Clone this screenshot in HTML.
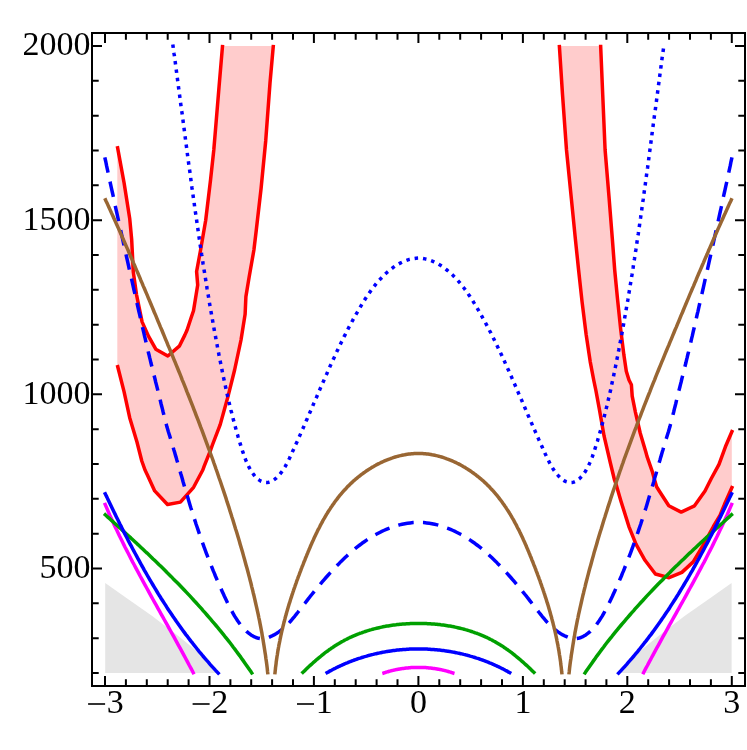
<!DOCTYPE html>
<html><head><meta charset="utf-8"><title>plot</title>
<style>html,body{margin:0;padding:0;background:#fff;}svg{display:block;}text{font-family:"Liberation Serif",serif;}svg{will-change:transform;}</style></head>
<body>
<svg width="747" height="750" viewBox="0 0 747 750">
<rect width="747" height="750" fill="#fff"/>
<path d="M105.2 583 L126.1 597.8 L152.2 616.1 L178.3 636.1 L190 645.5 L197.5 651.8 L214.1 671 L216.6 673 L105.2 673 Z" fill="#e5e5e5"/>
<path d="M731.6 583 L710.7 597.8 L684.6 616.1 L658.5 636.1 L646.8 645.5 L639.3 651.8 L622.7 671 L620.2 673 L731.6 673 Z" fill="#e5e5e5"/>
<clipPath id="pr"><rect x="105" y="46" width="626.8" height="627"/></clipPath>
<g clip-path="url(#pr)">
<path d="M117.3 146.1 L124.1 183 L129.7 218.4 L131.7 240 L132.5 256.1 L133.3 272.1 L136.5 294.6 L142.1 321.9 L148.6 336.4 L155.8 349.2 L167.8 356 L179.3 346.2 L184.8 335.1 L187.1 330 L191.2 317.5 L193.5 310.7 L195.3 299.8 L197.7 285 L196.6 271.5 L200.4 251 L205.7 220.3 L210.5 180.2 L213.8 150 L215.1 134.4 L219.1 86.2 L222.6 44.8 L273.4 44.8 L270 83 L265.7 141 L261.1 188.2 L256.3 230 L253.9 250 L249.1 277.3 L245.9 296.6 L245.1 314.3 L241 340 L234.6 370 L228.2 395.7 L220.2 424.6 L212.4 445 L210.5 450.3 L204.1 466.4 L202.8 470 L193.6 487.3 L180.4 502.1 L167.5 504.5 L154.7 490.9 L147.4 475 L145 470 L141.8 461 L136.9 441.7 L129.7 417.7 L124.1 391.9 L117.3 365 Z" fill="#ffcccc"/>
<path d="M559.3 44.8 L562.5 94.3 L566.5 150 L571.3 198.2 L575.3 238.4 L578.6 270 L582.1 302.1 L586.1 334.3 L590.2 361.6 L593.7 380 L595.8 390 L599.3 408.9 L604.1 436.2 L610.5 463.5 L614.5 480 L616.1 484.4 L620.9 500.9 L628.9 526.6 L636.1 544.3 L645 560.3 L655.4 574 L669.1 577.7 L681.9 572.4 L693.2 561.9 L702.8 545.9 L713.4 526.5 L720 515.3 L724.5 504.3 L732.6 486 L732.6 430 L725.4 446.8 L719 464.4 L711.3 478.5 L705 491 L694.5 505.8 L681.2 512.1 L668.8 505.8 L659.4 491.2 L656.6 486.8 L654.6 480 L652.3 471.6 L647 456.4 L645.9 452.3 L640.2 433 L635.4 412.1 L632.2 396.1 L631.4 384.8 L629 380 L626.3 371.2 L623.9 355.1 L620.7 329.4 L617.5 298.9 L614.7 270 L612.3 238.4 L609.1 198.2 L605.1 150 L602.7 94.3 L600.6 44.8 Z" fill="#ffcccc"/>
</g>
<path d="M117.3 146.1 L124.1 183 L129.7 218.4 L131.7 240 L132.5 256.1 L133.3 272.1 L136.5 294.6 L142.1 321.9 L148.6 336.4 L155.8 349.2 L167.8 356 L179.3 346.2 L184.8 335.1 L187.1 330 L191.2 317.5 L193.5 310.7 L195.3 299.8 L197.7 285 L196.6 271.5 L200.4 251 L205.7 220.3 L210.5 180.2 L213.8 150 L215.1 134.4 L219.1 86.2 L222.6 44.8" fill="none" stroke="#ff0000" stroke-width="3.5" stroke-linejoin="round"/>
<path d="M117.3 365 L124.1 391.9 L129.7 417.7 L136.9 441.7 L141.8 461 L145 470 L147.4 475 L154.7 490.9 L167.5 504.5 L180.4 502.1 L193.6 487.3 L202.8 470 L204.1 466.4 L210.5 450.3 L212.4 445 L220.2 424.6 L228.2 395.7 L234.6 370 L241 340 L245.1 314.3 L245.9 296.6 L249.1 277.3 L253.9 250 L256.3 230 L261.1 188.2 L265.7 141 L270 83 L273.4 44.8" fill="none" stroke="#ff0000" stroke-width="3.5" stroke-linejoin="round"/>
<path d="M600.6 44.8 L602.7 94.3 L605.1 150 L609.1 198.2 L612.3 238.4 L614.7 270 L617.5 298.9 L620.7 329.4 L623.9 355.1 L626.3 371.2 L629 380 L631.4 384.8 L632.2 396.1 L635.4 412.1 L640.2 433 L645.9 452.3 L647 456.4 L652.3 471.6 L654.6 480 L656.6 486.8 L659.4 491.2 L668.8 505.8 L681.2 512.1 L694.5 505.8 L705 491 L711.3 478.5 L719 464.4 L725.4 446.8 L732.6 430" fill="none" stroke="#ff0000" stroke-width="3.5" stroke-linejoin="round"/>
<path d="M559.3 44.8 L562.5 94.3 L566.5 150 L571.3 198.2 L575.3 238.4 L578.6 270 L582.1 302.1 L586.1 334.3 L590.2 361.6 L593.7 380 L595.8 390 L599.3 408.9 L604.1 436.2 L610.5 463.5 L614.5 480 L616.1 484.4 L620.9 500.9 L628.9 526.6 L636.1 544.3 L645 560.3 L655.4 574 L669.1 577.7 L681.9 572.4 L693.2 561.9 L702.8 545.9 L713.4 526.5 L720 515.3 L724.5 504.3 L732.6 486" fill="none" stroke="#ff0000" stroke-width="3.5" stroke-linejoin="round"/>
<path d="M104.5 502.9 L105.8 505.9 L107.1 508.9 L108.4 512 L109.7 515 L111.1 517.9 L112.4 520.9 L113.8 523.9 L115.2 526.9 L116.6 529.8 L118 532.8 L119.4 535.8 L120.9 538.7 L122.3 541.6 L123.8 544.6 L125.2 547.5 L126.7 550.4 L128.2 553.3 L129.7 556.2 L131.2 559.2 L132.7 562.1 L134.3 565 L135.8 567.9 L137.3 570.7 L138.9 573.6 L140.4 576.5 L142 579.4 L143.6 582.3 L145.1 585.1 L146.7 588 L148.3 590.9 L149.9 593.8 L151.4 596.6 L153 599.5 L154.6 602.4 L156.2 605.2 L157.8 608.1 L159.4 610.9 L161 613.8 L162.6 616.7 L164.2 619.5 L165.8 622.4 L167.4 625.2 L169 628.1 L170.6 631 L172.2 633.8 L173.8 636.7 L175.4 639.6 L176.9 642.4 L178.5 645.3 L180.1 648.2 L181.7 651.1 L183.2 653.9 L184.8 656.8 L186.3 659.7 L187.9 662.6 L189.4 665.5 L191 668.4 L192.5 671.3 L194 674.2" fill="none" stroke="#ff00ff" stroke-width="3.5" stroke-linejoin="round" />
<path d="M732.3 502.9 L731 505.9 L729.7 508.9 L728.4 512 L727.1 515 L725.7 517.9 L724.4 520.9 L723 523.9 L721.6 526.9 L720.2 529.8 L718.8 532.8 L717.4 535.8 L715.9 538.7 L714.5 541.6 L713 544.6 L711.6 547.5 L710.1 550.4 L708.6 553.3 L707.1 556.2 L705.6 559.2 L704.1 562.1 L702.5 565 L701 567.9 L699.5 570.7 L697.9 573.6 L696.4 576.5 L694.8 579.4 L693.2 582.3 L691.7 585.1 L690.1 588 L688.5 590.9 L686.9 593.8 L685.4 596.6 L683.8 599.5 L682.2 602.4 L680.6 605.2 L679 608.1 L677.4 610.9 L675.8 613.8 L674.2 616.7 L672.6 619.5 L671 622.4 L669.4 625.2 L667.8 628.1 L666.2 631 L664.6 633.8 L663 636.7 L661.4 639.6 L659.9 642.4 L658.3 645.3 L656.7 648.2 L655.1 651.1 L653.6 653.9 L652 656.8 L650.5 659.7 L648.9 662.6 L647.4 665.5 L645.8 668.4 L644.3 671.3 L642.8 674.2" fill="none" stroke="#ff00ff" stroke-width="3.5" stroke-linejoin="round" />
<path d="M382.3 673.5 L383 673.3 L383.7 673 L384.4 672.8 L385.1 672.6 L385.8 672.3 L386.5 672.1 L387.2 671.9 L387.9 671.7 L388.6 671.5 L389.3 671.3 L390 671.1 L390.7 670.9 L391.4 670.7 L392.1 670.6 L392.8 670.4 L393.6 670.2 L394.3 670.1 L395 669.9 L395.7 669.7 L396.4 669.6 L397.1 669.4 L397.9 669.3 L398.6 669.2 L399.3 669 L400 668.9 L400.8 668.8 L401.5 668.7 L402.2 668.6 L403 668.5 L403.7 668.4 L404.4 668.3 L405.1 668.2 L405.9 668.1 L406.6 668 L407.3 667.9 L408.1 667.9 L408.8 667.8 L409.6 667.7 L410.3 667.7 L411 667.6 L411.8 667.6 L412.5 667.6 L413.2 667.5 L414 667.5 L414.7 667.5 L415.4 667.4 L416.2 667.4 L416.9 667.4 L417.7 667.4 L418.4 667.4 L419.1 667.4 L419.9 667.4 L420.6 667.4 L421.4 667.4 L422.1 667.5 L422.8 667.5 L423.6 667.5 L424.3 667.6 L425 667.6 L425.8 667.6 L426.5 667.7 L427.2 667.7 L428 667.8 L428.7 667.9 L429.5 667.9 L430.2 668 L430.9 668.1 L431.7 668.2 L432.4 668.3 L433.1 668.4 L433.8 668.5 L434.6 668.6 L435.3 668.7 L436 668.8 L436.8 668.9 L437.5 669 L438.2 669.2 L438.9 669.3 L439.7 669.4 L440.4 669.6 L441.1 669.7 L441.8 669.9 L442.5 670.1 L443.2 670.2 L444 670.4 L444.7 670.6 L445.4 670.7 L446.1 670.9 L446.8 671.1 L447.5 671.3 L448.2 671.5 L448.9 671.7 L449.6 671.9 L450.3 672.1 L451 672.3 L451.7 672.6 L452.4 672.8 L453.1 673 L453.8 673.3 L454.5 673.5" fill="none" stroke="#ff00ff" stroke-width="3.5" stroke-linejoin="round" />
<path d="M104 513.7 L106.1 515.5 L108.1 517.4 L110.2 519.2 L112.3 521.1 L114.3 523 L116.4 524.8 L118.5 526.7 L120.5 528.5 L122.6 530.4 L124.6 532.3 L126.7 534.2 L128.7 536 L130.8 537.9 L132.8 539.8 L134.9 541.7 L136.9 543.6 L139 545.5 L141 547.4 L143 549.3 L145 551.2 L147.1 553.1 L149.1 555 L151.1 556.9 L153.1 558.9 L155.1 560.8 L157.1 562.7 L159.1 564.7 L161.1 566.6 L163.1 568.5 L165.1 570.5 L167 572.5 L169 574.4 L171 576.4 L172.9 578.4 L174.9 580.4 L176.8 582.3 L178.8 584.3 L180.7 586.3 L182.6 588.3 L184.5 590.3 L186.5 592.4 L188.4 594.4 L190.3 596.4 L192.1 598.4 L194 600.5 L195.9 602.5 L197.8 604.6 L199.6 606.6 L201.5 608.7 L203.3 610.8 L205.2 612.9 L207 615 L208.8 617.1 L210.6 619.2 L212.4 621.3 L214.2 623.4 L216 625.5 L217.8 627.6 L219.6 629.8 L221.3 631.9 L223.1 634.1 L224.8 636.3 L226.5 638.4 L228.3 640.6 L230 642.8 L231.7 645 L233.3 647.2 L235 649.4 L236.7 651.7 L238.3 653.9 L240 656.1 L241.6 658.4 L243.2 660.6 L244.8 662.9 L246.4 665.2 L248 667.5 L249.6 669.8 L251.2 672.1 L252.7 674.4" fill="none" stroke="#00a000" stroke-width="3.5" stroke-linejoin="round" />
<path d="M732.8 513.7 L730.7 515.5 L728.7 517.4 L726.6 519.2 L724.5 521.1 L722.5 523 L720.4 524.8 L718.3 526.7 L716.3 528.5 L714.2 530.4 L712.2 532.3 L710.1 534.2 L708.1 536 L706 537.9 L704 539.8 L701.9 541.7 L699.9 543.6 L697.8 545.5 L695.8 547.4 L693.8 549.3 L691.8 551.2 L689.7 553.1 L687.7 555 L685.7 556.9 L683.7 558.9 L681.7 560.8 L679.7 562.7 L677.7 564.7 L675.7 566.6 L673.7 568.5 L671.7 570.5 L669.8 572.5 L667.8 574.4 L665.8 576.4 L663.9 578.4 L661.9 580.4 L660 582.3 L658 584.3 L656.1 586.3 L654.2 588.3 L652.3 590.3 L650.3 592.4 L648.4 594.4 L646.5 596.4 L644.7 598.4 L642.8 600.5 L640.9 602.5 L639 604.6 L637.2 606.6 L635.3 608.7 L633.5 610.8 L631.6 612.9 L629.8 615 L628 617.1 L626.2 619.2 L624.4 621.3 L622.6 623.4 L620.8 625.5 L619 627.6 L617.2 629.8 L615.5 631.9 L613.7 634.1 L612 636.3 L610.3 638.4 L608.5 640.6 L606.8 642.8 L605.1 645 L603.5 647.2 L601.8 649.4 L600.1 651.7 L598.5 653.9 L596.8 656.1 L595.2 658.4 L593.6 660.6 L592 662.9 L590.4 665.2 L588.8 667.5 L587.2 669.8 L585.6 672.1 L584.1 674.4" fill="none" stroke="#00a000" stroke-width="3.5" stroke-linejoin="round" />
<path d="M301.6 673.6 L302.5 672.7 L303.5 671.8 L304.4 670.9 L305.4 669.9 L306.3 669 L307.3 668.1 L308.2 667.2 L309.2 666.3 L310.2 665.4 L311.1 664.6 L312.1 663.7 L313.1 662.8 L314.1 661.9 L315.1 661.1 L316 660.2 L317 659.3 L318.1 658.5 L319.1 657.6 L320.1 656.8 L321.1 656 L322.1 655.1 L323.1 654.3 L324.2 653.5 L325.2 652.7 L326.3 651.9 L327.3 651.2 L328.4 650.4 L329.4 649.6 L330.5 648.9 L331.6 648.1 L332.7 647.4 L333.7 646.7 L334.8 645.9 L335.9 645.2 L337 644.6 L338.1 643.9 L339.3 643.2 L340.4 642.6 L341.5 641.9 L342.7 641.3 L343.8 640.7 L344.9 640 L346.1 639.5 L347.3 638.9 L348.4 638.3 L349.6 637.7 L350.8 637.2 L352 636.6 L353.1 636.1 L354.3 635.6 L355.5 635.1 L356.7 634.6 L357.9 634.1 L359.2 633.7 L360.4 633.2 L361.6 632.8 L362.8 632.3 L364.1 631.9 L365.3 631.5 L366.5 631.1 L367.8 630.7 L369 630.3 L370.3 629.9 L371.5 629.6 L372.8 629.2 L374 628.9 L375.3 628.6 L376.6 628.3 L377.9 628 L379.1 627.7 L380.4 627.4 L381.7 627.1 L383 626.8 L384.3 626.6 L385.6 626.3 L386.9 626.1 L388.2 625.9 L389.4 625.7 L390.7 625.5 L392.1 625.3 L393.4 625.1 L394.7 624.9 L396 624.8 L397.3 624.6 L398.6 624.5 L399.9 624.3 L401.2 624.2 L402.5 624.1 L403.9 624 L405.2 623.9 L406.5 623.8 L407.8 623.7 L409.1 623.7 L410.5 623.6 L411.8 623.5 L413.1 623.5 L414.4 623.5 L415.8 623.5 L417.1 623.4 L418.4 623.4 L419.7 623.4 L421 623.5 L422.4 623.5 L423.7 623.5 L425 623.5 L426.3 623.6 L427.7 623.7 L429 623.7 L430.3 623.8 L431.6 623.9 L432.9 624 L434.3 624.1 L435.6 624.2 L436.9 624.3 L438.2 624.5 L439.5 624.6 L440.8 624.8 L442.1 624.9 L443.4 625.1 L444.7 625.3 L446.1 625.5 L447.4 625.7 L448.6 625.9 L449.9 626.1 L451.2 626.3 L452.5 626.6 L453.8 626.8 L455.1 627.1 L456.4 627.4 L457.7 627.7 L458.9 628 L460.2 628.3 L461.5 628.6 L462.8 628.9 L464 629.2 L465.3 629.6 L466.5 629.9 L467.8 630.3 L469 630.7 L470.3 631.1 L471.5 631.5 L472.7 631.9 L474 632.3 L475.2 632.8 L476.4 633.2 L477.6 633.7 L478.9 634.1 L480.1 634.6 L481.3 635.1 L482.5 635.6 L483.7 636.1 L484.8 636.6 L486 637.2 L487.2 637.7 L488.4 638.3 L489.5 638.9 L490.7 639.5 L491.9 640 L493 640.7 L494.1 641.3 L495.3 641.9 L496.4 642.6 L497.5 643.2 L498.7 643.9 L499.8 644.6 L500.9 645.2 L502 645.9 L503.1 646.7 L504.1 647.4 L505.2 648.1 L506.3 648.9 L507.4 649.6 L508.4 650.4 L509.5 651.2 L510.5 651.9 L511.6 652.7 L512.6 653.5 L513.7 654.3 L514.7 655.1 L515.7 656 L516.7 656.8 L517.7 657.6 L518.7 658.5 L519.8 659.3 L520.8 660.2 L521.7 661.1 L522.7 661.9 L523.7 662.8 L524.7 663.7 L525.7 664.6 L526.6 665.4 L527.6 666.3 L528.6 667.2 L529.5 668.1 L530.5 669 L531.4 669.9 L532.4 670.9 L533.3 671.8 L534.3 672.7 L535.2 673.6" fill="none" stroke="#00a000" stroke-width="3.5" stroke-linejoin="round" />
<path d="M104.5 492.2 L105.7 494.7 L106.9 497.1 L108 499.6 L109.2 502.1 L110.4 504.6 L111.6 507 L112.8 509.5 L114 512 L115.2 514.4 L116.4 516.9 L117.6 519.3 L118.8 521.8 L120 524.3 L121.3 526.7 L122.5 529.2 L123.7 531.6 L125 534.1 L126.2 536.5 L127.5 538.9 L128.7 541.4 L130 543.8 L131.3 546.2 L132.6 548.7 L133.9 551.1 L135.2 553.5 L136.5 555.9 L137.8 558.3 L139.1 560.7 L140.4 563.1 L141.7 565.5 L143.1 567.9 L144.4 570.3 L145.8 572.7 L147.1 575 L148.5 577.4 L149.9 579.8 L151.3 582.1 L152.7 584.5 L154.1 586.8 L155.5 589.2 L156.9 591.5 L158.3 593.9 L159.8 596.2 L161.2 598.5 L162.7 600.8 L164.2 603.1 L165.7 605.4 L167.1 607.7 L168.6 610 L170.2 612.3 L171.7 614.5 L173.2 616.8 L174.8 619 L176.3 621.3 L177.9 623.5 L179.5 625.7 L181.1 628 L182.7 630.2 L184.3 632.4 L185.9 634.6 L187.6 636.7 L189.2 638.9 L190.9 641.1 L192.6 643.2 L194.3 645.4 L196 647.5 L197.7 649.7 L199.4 651.8 L201.2 653.9 L202.9 656 L204.7 658.1 L206.5 660.2 L208.3 662.2 L210.1 664.3 L211.9 666.3 L213.8 668.4 L215.6 670.4 L217.5 672.4 L219.4 674.4" fill="none" stroke="#0000ff" stroke-width="3.5" stroke-linejoin="round" />
<path d="M732.3 492.2 L731.1 494.7 L729.9 497.1 L728.8 499.6 L727.6 502.1 L726.4 504.6 L725.2 507 L724 509.5 L722.8 512 L721.6 514.4 L720.4 516.9 L719.2 519.3 L718 521.8 L716.8 524.3 L715.5 526.7 L714.3 529.2 L713.1 531.6 L711.8 534.1 L710.6 536.5 L709.3 538.9 L708.1 541.4 L706.8 543.8 L705.5 546.2 L704.2 548.7 L702.9 551.1 L701.6 553.5 L700.3 555.9 L699 558.3 L697.7 560.7 L696.4 563.1 L695.1 565.5 L693.7 567.9 L692.4 570.3 L691 572.7 L689.7 575 L688.3 577.4 L686.9 579.8 L685.5 582.1 L684.1 584.5 L682.7 586.8 L681.3 589.2 L679.9 591.5 L678.5 593.9 L677 596.2 L675.6 598.5 L674.1 600.8 L672.6 603.1 L671.1 605.4 L669.7 607.7 L668.2 610 L666.6 612.3 L665.1 614.5 L663.6 616.8 L662 619 L660.5 621.3 L658.9 623.5 L657.3 625.7 L655.7 628 L654.1 630.2 L652.5 632.4 L650.9 634.6 L649.2 636.7 L647.6 638.9 L645.9 641.1 L644.2 643.2 L642.5 645.4 L640.8 647.5 L639.1 649.7 L637.4 651.8 L635.6 653.9 L633.9 656 L632.1 658.1 L630.3 660.2 L628.5 662.2 L626.7 664.3 L624.9 666.3 L623 668.4 L621.2 670.4 L619.3 672.4 L617.4 674.4" fill="none" stroke="#0000ff" stroke-width="3.5" stroke-linejoin="round" />
<path d="M325.6 673.5 L326.4 673 L327.3 672.5 L328.1 672.1 L329 671.6 L329.8 671.1 L330.7 670.6 L331.5 670.2 L332.4 669.7 L333.2 669.3 L334.1 668.8 L335 668.4 L335.8 668 L336.7 667.5 L337.6 667.1 L338.5 666.7 L339.3 666.3 L340.2 665.9 L341.1 665.5 L342 665.1 L342.9 664.7 L343.7 664.3 L344.6 663.9 L345.5 663.5 L346.4 663.1 L347.3 662.8 L348.2 662.4 L349.1 662 L350 661.7 L350.9 661.3 L351.8 661 L352.7 660.6 L353.6 660.3 L354.6 660 L355.5 659.6 L356.4 659.3 L357.3 659 L358.2 658.7 L359.1 658.4 L360.1 658.1 L361 657.8 L361.9 657.5 L362.8 657.2 L363.8 656.9 L364.7 656.6 L365.6 656.4 L366.6 656.1 L367.5 655.8 L368.4 655.6 L369.4 655.3 L370.3 655.1 L371.2 654.8 L372.2 654.6 L373.1 654.4 L374.1 654.1 L375 653.9 L376 653.7 L376.9 653.5 L377.9 653.3 L378.8 653.1 L379.8 652.9 L380.7 652.7 L381.7 652.5 L382.6 652.3 L383.6 652.1 L384.5 651.9 L385.5 651.8 L386.4 651.6 L387.4 651.5 L388.4 651.3 L389.3 651.2 L390.3 651 L391.3 650.9 L392.2 650.7 L393.2 650.6 L394.1 650.5 L395.1 650.4 L396.1 650.2 L397 650.1 L398 650 L399 649.9 L399.9 649.8 L400.9 649.7 L401.9 649.7 L402.8 649.6 L403.8 649.5 L404.8 649.4 L405.8 649.4 L406.7 649.3 L407.7 649.2 L408.7 649.2 L409.6 649.1 L410.6 649.1 L411.6 649.1 L412.6 649 L413.5 649 L414.5 649 L415.5 649 L416.5 649 L417.4 648.9 L418.4 648.9 L419.4 648.9 L420.3 649 L421.3 649 L422.3 649 L423.3 649 L424.2 649 L425.2 649.1 L426.2 649.1 L427.2 649.1 L428.1 649.2 L429.1 649.2 L430.1 649.3 L431 649.4 L432 649.4 L433 649.5 L434 649.6 L434.9 649.7 L435.9 649.7 L436.9 649.8 L437.8 649.9 L438.8 650 L439.8 650.1 L440.7 650.2 L441.7 650.4 L442.7 650.5 L443.6 650.6 L444.6 650.7 L445.5 650.9 L446.5 651 L447.5 651.2 L448.4 651.3 L449.4 651.5 L450.4 651.6 L451.3 651.8 L452.3 651.9 L453.2 652.1 L454.2 652.3 L455.1 652.5 L456.1 652.7 L457 652.9 L458 653.1 L458.9 653.3 L459.9 653.5 L460.8 653.7 L461.8 653.9 L462.7 654.1 L463.7 654.4 L464.6 654.6 L465.6 654.8 L466.5 655.1 L467.4 655.3 L468.4 655.6 L469.3 655.8 L470.2 656.1 L471.2 656.4 L472.1 656.6 L473 656.9 L474 657.2 L474.9 657.5 L475.8 657.8 L476.7 658.1 L477.7 658.4 L478.6 658.7 L479.5 659 L480.4 659.3 L481.3 659.6 L482.2 660 L483.2 660.3 L484.1 660.6 L485 661 L485.9 661.3 L486.8 661.7 L487.7 662 L488.6 662.4 L489.5 662.8 L490.4 663.1 L491.3 663.5 L492.2 663.9 L493.1 664.3 L493.9 664.7 L494.8 665.1 L495.7 665.5 L496.6 665.9 L497.5 666.3 L498.3 666.7 L499.2 667.1 L500.1 667.5 L501 668 L501.8 668.4 L502.7 668.8 L503.6 669.3 L504.4 669.7 L505.3 670.2 L506.1 670.6 L507 671.1 L507.8 671.6 L508.7 672.1 L509.5 672.5 L510.4 673 L511.2 673.5" fill="none" stroke="#0000ff" stroke-width="3.5" stroke-linejoin="round" />
<path d="M172.8 44.4 L173.1 46.7 L173.4 49 L173.7 51.2 L174 53.5 L174.4 55.8 L174.7 58.1 L175 60.3 L175.3 62.6 L175.6 64.9 L175.9 67.2 L176.2 69.5 L176.5 71.7 L176.8 74 L177.1 76.3 L177.4 78.6 L177.7 80.9 L178 83.1 L178.3 85.4 L178.6 87.7 L178.9 90 L179.2 92.3 L179.5 94.5 L179.8 96.8 L180.1 99.1 L180.4 101.4 L180.7 103.7 L181 105.9 L181.3 108.2 L181.6 110.5 L182 112.8 L182.3 115.1 L182.6 117.4 L182.9 119.6 L183.2 121.9 L183.5 124.2 L183.8 126.5 L184.1 128.8 L184.4 131.1 L184.7 133.3 L185 135.6 L185.3 137.9 L185.6 140.2 L185.9 142.5 L186.2 144.7 L186.5 147 L186.8 149.3 L187.1 151.6 L187.4 153.9 L187.7 156.2 L188 158.4 L188.3 160.7 L188.6 163 L188.9 165.3 L189.2 167.6 L189.6 169.9 L189.9 172.1 L190.2 174.4 L190.5 176.7 L190.8 179 L191.1 181.3 L191.4 183.5 L191.7 185.8 L192 188.1 L192.4 190.4 L192.7 192.7 L193 195 L193.3 197.2 L193.6 199.5 L194 201.8 L194.3 204.1 L194.6 206.4 L194.9 208.6 L195.2 210.9 L195.6 213.2 L195.9 215.5 L196.2 217.8 L196.6 220 L196.9 222.3 L197.2 224.6 L197.5 226.9 L197.9 229.1 L198.2 231.4 L198.5 233.7 L198.9 236 L199.2 238.3 L199.6 240.5 L199.9 242.8 L200.2 245.1 L200.6 247.4 L200.9 249.6 L201.3 251.9 L201.6 254.2 L202 256.5 L202.3 258.7 L202.7 261 L203 263.3 L203.4 265.6 L203.7 267.8 L204.1 270.1 L204.5 272.4 L204.8 274.7 L205.2 276.9 L205.6 279.2 L205.9 281.5 L206.3 283.8 L206.7 286 L207 288.3 L207.4 290.6 L207.8 292.8 L208.2 295.1 L208.6 297.4 L208.9 299.6 L209.3 301.9 L209.7 304.2 L210.1 306.4 L210.5 308.7 L210.9 311 L211.3 313.2 L211.7 315.5 L212.1 317.8 L212.5 320 L212.9 322.3 L213.3 324.6 L213.7 326.8 L214.1 329.1 L214.5 331.4 L214.9 333.6 L215.4 335.9 L215.8 338.1 L216.2 340.4 L216.6 342.7 L217.1 344.9 L217.5 347.2 L217.9 349.4 L218.4 351.7 L218.8 354 L219.2 356.2 L219.7 358.5 L220.1 360.7 L220.6 363 L221 365.2 L221.5 367.5 L221.9 369.7 L222.4 372 L222.9 374.3 L223.3 376.5 L223.8 378.7 L224.3 381 L224.8 383.2 L225.3 385.5 L225.7 387.7 L226.2 390 L226.7 392.2 L227.2 394.5 L227.7 396.7 L228.3 398.9 L228.8 401.2 L229.3 403.4 L229.8 405.7 L230.4 407.9 L230.9 410.1 L231.5 412.3 L232.1 414.6 L232.6 416.8 L233.2 419 L233.8 421.3 L234.4 423.5 L235 425.7 L235.6 427.9 L236.2 430.1 L236.8 432.4 L237.5 434.6 L238.1 436.8 L238.8 439 L239.4 441.2 L240.1 443.4 L240.8 445.6 L241.5 447.8 L242.2 450 L242.9 452.2 L243.7 454.4 L244.4 456.6 L245.3 458.8 L246.1 461 L247.1 463.1 L248.1 465.3 L249.1 467.4 L250.3 469.5 L251.5 471.5 L252.9 473.5 L254.3 475.4 L255.9 477.2 L257.5 478.8 L259.3 480.1 L261.1 481.3 L263 482.1 L264.9 482.5 L266.9 482.6 L268.9 482.2 L270.8 481.6 L272.8 480.6 L274.6 479.3 L276.4 477.9 L278 476.3 L279.6 474.5 L281.1 472.7 L282.5 470.8 L283.8 468.8 L285 466.8 L286.1 464.8 L287.3 462.7 L288.3 460.6 L289.4 458.5 L290.4 456.3 L291.4 454.2 L292.3 452.1 L293.3 450 L294.3 447.8 L295.2 445.7 L296.2 443.6 L297.2 441.5 L298.1 439.4 L299 437.3 L300 435.1 L300.9 433 L301.8 430.9 L302.8 428.8 L303.7 426.7 L304.6 424.6 L305.5 422.5 L306.4 420.4 L307.4 418.3 L308.3 416.2 L309.2 414.1 L310.1 412 L311 409.9 L311.9 407.8 L312.8 405.7 L313.7 403.6 L314.6 401.5 L315.5 399.4 L316.5 397.3 L317.4 395.2 L318.3 393.1 L319.2 391 L320.1 388.9 L321 386.8 L321.9 384.7 L322.9 382.6 L323.8 380.5 L324.7 378.4 L325.6 376.3 L326.6 374.2 L327.5 372.1 L328.4 370 L329.4 367.9 L330.3 365.8 L331.3 363.7 L332.2 361.6 L333.2 359.5 L334.2 357.4 L335.1 355.3 L336.1 353.2 L337.1 351.1 L338.1 349.1 L339.1 347 L340.1 344.9 L341.1 342.8 L342.1 340.8 L343.1 338.7 L344.1 336.6 L345.2 334.6 L346.2 332.5 L347.3 330.5 L348.3 328.4 L349.4 326.4 L350.5 324.3 L351.6 322.3 L352.7 320.3 L353.8 318.3 L354.9 316.3 L356 314.3 L357.2 312.3 L358.3 310.3 L359.5 308.3 L360.7 306.3 L361.9 304.3 L363.1 302.4 L364.3 300.4 L365.5 298.5 L366.8 296.6 L368.1 294.7 L369.4 292.8 L370.7 290.9 L372.1 289 L373.5 287.2 L374.9 285.4 L376.3 283.6 L377.8 281.8 L379.3 280.1 L380.9 278.4 L382.5 276.8 L384.1 275.1 L385.8 273.5 L387.5 272 L389.3 270.5 L391.1 269.1 L392.9 267.7 L394.8 266.3 L396.8 265.1 L398.8 263.9 L400.8 262.8 L402.9 261.8 L405.1 260.9 L407.2 260.1 L409.4 259.4 L411.7 258.9 L413.9 258.5 L416.1 258.2 L418.4 258.1 L420.7 258.2 L422.9 258.5 L425.1 258.9 L427.4 259.4 L429.6 260.1 L431.7 260.9 L433.9 261.8 L436 262.8 L438 263.9 L440 265.1 L442 266.3 L443.9 267.7 L445.7 269.1 L447.5 270.5 L449.3 272 L451 273.5 L452.7 275.1 L454.3 276.8 L455.9 278.4 L457.5 280.1 L459 281.8 L460.5 283.6 L461.9 285.4 L463.3 287.2 L464.7 289 L466.1 290.9 L467.4 292.8 L468.7 294.7 L470 296.6 L471.3 298.5 L472.5 300.4 L473.7 302.4 L474.9 304.3 L476.1 306.3 L477.3 308.3 L478.5 310.3 L479.6 312.3 L480.8 314.3 L481.9 316.3 L483 318.3 L484.1 320.3 L485.2 322.3 L486.3 324.3 L487.4 326.4 L488.5 328.4 L489.5 330.5 L490.6 332.5 L491.6 334.6 L492.7 336.6 L493.7 338.7 L494.7 340.8 L495.7 342.8 L496.7 344.9 L497.7 347 L498.7 349.1 L499.7 351.1 L500.7 353.2 L501.7 355.3 L502.6 357.4 L503.6 359.5 L504.6 361.6 L505.5 363.7 L506.5 365.8 L507.4 367.9 L508.4 370 L509.3 372.1 L510.2 374.2 L511.2 376.3 L512.1 378.4 L513 380.5 L513.9 382.6 L514.9 384.7 L515.8 386.8 L516.7 388.9 L517.6 391 L518.5 393.1 L519.4 395.2 L520.3 397.3 L521.3 399.4 L522.2 401.5 L523.1 403.6 L524 405.7 L524.9 407.8 L525.8 409.9 L526.7 412 L527.6 414.1 L528.5 416.2 L529.4 418.3 L530.4 420.4 L531.3 422.5 L532.2 424.6 L533.1 426.7 L534 428.8 L535 430.9 L535.9 433 L536.8 435.1 L537.8 437.3 L538.7 439.4 L539.6 441.5 L540.6 443.6 L541.6 445.7 L542.5 447.8 L543.5 450 L544.5 452.1 L545.4 454.2 L546.4 456.3 L547.4 458.5 L548.5 460.6 L549.5 462.7 L550.7 464.8 L551.8 466.8 L553 468.8 L554.3 470.8 L555.7 472.7 L557.2 474.5 L558.8 476.3 L560.4 477.9 L562.2 479.3 L564 480.6 L566 481.6 L567.9 482.2 L569.9 482.6 L571.9 482.5 L573.8 482.1 L575.7 481.3 L577.5 480.1 L579.3 478.8 L580.9 477.2 L582.5 475.4 L583.9 473.5 L585.3 471.5 L586.5 469.5 L587.7 467.4 L588.7 465.3 L589.7 463.1 L590.7 461 L591.5 458.8 L592.4 456.6 L593.1 454.4 L593.9 452.2 L594.6 450 L595.3 447.8 L596 445.6 L596.7 443.4 L597.4 441.2 L598 439 L598.7 436.8 L599.3 434.6 L600 432.4 L600.6 430.1 L601.2 427.9 L601.8 425.7 L602.4 423.5 L603 421.3 L603.6 419 L604.2 416.8 L604.7 414.6 L605.3 412.3 L605.9 410.1 L606.4 407.9 L607 405.7 L607.5 403.4 L608 401.2 L608.5 398.9 L609.1 396.7 L609.6 394.5 L610.1 392.2 L610.6 390 L611.1 387.7 L611.5 385.5 L612 383.2 L612.5 381 L613 378.7 L613.5 376.5 L613.9 374.3 L614.4 372 L614.9 369.7 L615.3 367.5 L615.8 365.2 L616.2 363 L616.7 360.7 L617.1 358.5 L617.6 356.2 L618 354 L618.4 351.7 L618.9 349.4 L619.3 347.2 L619.7 344.9 L620.2 342.7 L620.6 340.4 L621 338.1 L621.4 335.9 L621.9 333.6 L622.3 331.4 L622.7 329.1 L623.1 326.8 L623.5 324.6 L623.9 322.3 L624.3 320 L624.7 317.8 L625.1 315.5 L625.5 313.2 L625.9 311 L626.3 308.7 L626.7 306.4 L627.1 304.2 L627.5 301.9 L627.9 299.6 L628.2 297.4 L628.6 295.1 L629 292.8 L629.4 290.6 L629.8 288.3 L630.1 286 L630.5 283.8 L630.9 281.5 L631.2 279.2 L631.6 276.9 L632 274.7 L632.3 272.4 L632.7 270.1 L633.1 267.8 L633.4 265.6 L633.8 263.3 L634.1 261 L634.5 258.7 L634.8 256.5 L635.2 254.2 L635.5 251.9 L635.9 249.6 L636.2 247.4 L636.6 245.1 L636.9 242.8 L637.2 240.5 L637.6 238.3 L637.9 236 L638.3 233.7 L638.6 231.4 L638.9 229.1 L639.3 226.9 L639.6 224.6 L639.9 222.3 L640.2 220 L640.6 217.8 L640.9 215.5 L641.2 213.2 L641.6 210.9 L641.9 208.6 L642.2 206.4 L642.5 204.1 L642.8 201.8 L643.2 199.5 L643.5 197.2 L643.8 195 L644.1 192.7 L644.4 190.4 L644.8 188.1 L645.1 185.8 L645.4 183.5 L645.7 181.3 L646 179 L646.3 176.7 L646.6 174.4 L646.9 172.1 L647.2 169.9 L647.6 167.6 L647.9 165.3 L648.2 163 L648.5 160.7 L648.8 158.4 L649.1 156.2 L649.4 153.9 L649.7 151.6 L650 149.3 L650.3 147 L650.6 144.7 L650.9 142.5 L651.2 140.2 L651.5 137.9 L651.8 135.6 L652.1 133.3 L652.4 131.1 L652.7 128.8 L653 126.5 L653.3 124.2 L653.6 121.9 L653.9 119.6 L654.2 117.4 L654.5 115.1 L654.8 112.8 L655.2 110.5 L655.5 108.2 L655.8 105.9 L656.1 103.7 L656.4 101.4 L656.7 99.1 L657 96.8 L657.3 94.5 L657.6 92.3 L657.9 90 L658.2 87.7 L658.5 85.4 L658.8 83.1 L659.1 80.9 L659.4 78.6 L659.7 76.3 L660 74 L660.3 71.7 L660.6 69.5 L660.9 67.2 L661.2 64.9 L661.5 62.6 L661.8 60.3 L662.1 58.1 L662.4 55.8 L662.8 53.5 L663.1 51.2 L663.4 49 L663.7 46.7 L664 44.4" fill="none" stroke="#0000ff" stroke-width="3.5" stroke-linejoin="round" stroke-dasharray="3.5 4.917"/>
<path d="M104.8 157.3 L105.4 160 L106 162.7 L106.5 165.4 L107.1 168.1 L107.7 170.8 L108.3 173.6 L108.9 176.3 L109.5 179 L110 181.7 L110.6 184.4 L111.2 187.1 L111.8 189.8 L112.4 192.5 L113 195.2 L113.6 197.9 L114.2 200.6 L114.7 203.4 L115.3 206.1 L115.9 208.8 L116.5 211.5 L117.1 214.2 L117.7 216.9 L118.3 219.6 L118.9 222.3 L119.5 225 L120.1 227.7 L120.7 230.4 L121.3 233.2 L121.9 235.9 L122.5 238.6 L123.1 241.3 L123.7 244 L124.3 246.7 L124.9 249.4 L125.5 252.1 L126.1 254.8 L126.7 257.5 L127.3 260.2 L127.9 262.9 L128.5 265.6 L129.1 268.3 L129.7 271 L130.4 273.8 L131 276.5 L131.6 279.2 L132.2 281.9 L132.8 284.6 L133.4 287.3 L134 290 L134.6 292.7 L135.2 295.4 L135.9 298.1 L136.5 300.8 L137.1 303.5 L137.7 306.2 L138.3 308.9 L138.9 311.6 L139.6 314.3 L140.2 317 L140.8 319.7 L141.4 322.4 L142 325.1 L142.6 327.8 L143.3 330.5 L143.9 333.2 L144.5 335.9 L145.2 338.6 L145.8 341.3 L146.4 344 L147.1 346.6 L147.7 349.3 L148.3 352 L149 354.7 L149.6 357.4 L150.3 360.1 L150.9 362.8 L151.6 365.5 L152.3 368.2 L152.9 370.9 L153.6 373.6 L154.3 376.3 L155 379 L155.6 381.7 L156.3 384.4 L157 387.2 L157.7 389.9 L158.4 392.6 L159.1 395.3 L159.7 398.1 L160.4 400.8 L161 403.5 L161.7 406.2 L162.4 408.9 L163 411.5 L163.7 414.2 L164.3 416.8 L165 419.3 L165.6 421.8 L166.3 424.3 L166.9 426.8 L167.6 429.1 L168.3 431.5 L169 433.7 L169.7 435.9 L170.4 438.2 L171.1 440.4 L171.8 442.8 L172.5 445.1 L173.2 447.5 L173.9 450 L174.7 452.5 L175.4 455.1 L176.2 457.6 L176.9 460.2 L177.7 462.8 L178.4 465.5 L179.2 468.1 L180 470.8 L180.7 473.5 L181.5 476.1 L182.3 478.8 L183 481.5 L183.8 484.2 L184.6 486.9 L185.4 489.6 L186.2 492.3 L187 494.9 L187.8 497.6 L188.6 500.3 L189.4 503 L190.2 505.7 L191 508.3 L191.9 511 L192.7 513.6 L193.6 516.3 L194.4 518.9 L195.3 521.6 L196.1 524.2 L197 526.8 L197.9 529.4 L198.8 532.1 L199.7 534.7 L200.6 537.3 L201.5 539.9 L202.4 542.5 L203.4 545.1 L204.3 547.7 L205.3 550.3 L206.2 552.8 L207.2 555.4 L208.2 558 L209.2 560.6 L210.2 563.2 L211.2 565.7 L212.3 568.3 L213.3 570.9 L214.4 573.4 L215.4 576 L216.5 578.5 L217.6 581.1 L218.7 583.6 L219.8 586.2 L221 588.7 L222.1 591.2 L223.3 593.8 L224.4 596.3 L225.6 598.8 L226.8 601.3 L228 603.8 L229.3 606.3 L230.6 608.8 L231.9 611.2 L233.2 613.7 L234.6 616.1 L236.1 618.4 L237.6 620.8 L239.2 623 L240.8 625.3 L242.6 627.4 L244.5 629.4 L246.5 631.4 L248.7 633.2 L251 634.9 L253.4 636.3 L255.9 637.5 L258.5 638.3 L261.1 638.7 L263.7 638.6 L266.3 638.1 L268.9 637.3 L271.4 636.2 L274 634.9 L276.4 633.5 L278.8 631.9 L281.1 630.2 L283.3 628.4 L285.4 626.5 L287.4 624.6 L289.3 622.6 L291.2 620.5 L292.9 618.4 L294.7 616.3 L296.4 614.1 L298.1 612 L299.8 609.8 L301.5 607.6 L303.2 605.4 L304.9 603.3 L306.6 601.1 L308.3 598.9 L310 596.7 L311.8 594.5 L313.5 592.4 L315.2 590.2 L317 588.1 L318.8 586 L320.6 583.8 L322.4 581.7 L324.2 579.6 L326 577.5 L327.8 575.5 L329.7 573.4 L331.6 571.4 L333.4 569.3 L335.3 567.3 L337.3 565.3 L339.2 563.4 L341.1 561.4 L343.1 559.5 L345.1 557.6 L347.1 555.7 L349.1 553.8 L351.2 552 L353.3 550.2 L355.4 548.4 L357.6 546.7 L359.8 545 L362 543.3 L364.3 541.7 L366.6 540.1 L368.9 538.6 L371.3 537.1 L373.7 535.6 L376.2 534.3 L378.7 533 L381.2 531.7 L383.7 530.5 L386.3 529.4 L388.9 528.3 L391.5 527.4 L394.1 526.5 L396.8 525.7 L399.4 524.9 L402.1 524.3 L404.8 523.7 L407.5 523.3 L410.2 522.9 L413 522.6 L415.7 522.5 L418.4 522.4 L421.1 522.5 L423.8 522.6 L426.6 522.9 L429.3 523.3 L432 523.7 L434.7 524.3 L437.4 524.9 L440 525.7 L442.7 526.5 L445.3 527.4 L447.9 528.3 L450.5 529.4 L453.1 530.5 L455.6 531.7 L458.1 533 L460.6 534.3 L463.1 535.6 L465.5 537.1 L467.9 538.6 L470.2 540.1 L472.5 541.7 L474.8 543.3 L477 545 L479.2 546.7 L481.4 548.4 L483.5 550.2 L485.6 552 L487.7 553.8 L489.7 555.7 L491.7 557.6 L493.7 559.5 L495.7 561.4 L497.6 563.4 L499.5 565.3 L501.5 567.3 L503.4 569.3 L505.2 571.4 L507.1 573.4 L509 575.5 L510.8 577.5 L512.6 579.6 L514.4 581.7 L516.2 583.8 L518 586 L519.8 588.1 L521.6 590.2 L523.3 592.4 L525 594.5 L526.8 596.7 L528.5 598.9 L530.2 601.1 L531.9 603.3 L533.6 605.4 L535.3 607.6 L537 609.8 L538.7 612 L540.4 614.1 L542.1 616.3 L543.9 618.4 L545.6 620.5 L547.5 622.6 L549.4 624.6 L551.4 626.5 L553.5 628.4 L555.7 630.2 L558 631.9 L560.4 633.5 L562.8 634.9 L565.4 636.2 L567.9 637.3 L570.5 638.1 L573.1 638.6 L575.7 638.7 L578.3 638.3 L580.9 637.5 L583.4 636.3 L585.8 634.9 L588.1 633.2 L590.3 631.4 L592.3 629.4 L594.2 627.4 L596 625.3 L597.6 623 L599.2 620.8 L600.7 618.4 L602.2 616.1 L603.6 613.7 L604.9 611.2 L606.2 608.8 L607.5 606.3 L608.8 603.8 L610 601.3 L611.2 598.8 L612.4 596.3 L613.5 593.8 L614.7 591.2 L615.8 588.7 L617 586.2 L618.1 583.6 L619.2 581.1 L620.3 578.5 L621.4 576 L622.4 573.4 L623.5 570.9 L624.5 568.3 L625.6 565.7 L626.6 563.2 L627.6 560.6 L628.6 558 L629.6 555.4 L630.6 552.8 L631.5 550.3 L632.5 547.7 L633.4 545.1 L634.4 542.5 L635.3 539.9 L636.2 537.3 L637.1 534.7 L638 532.1 L638.9 529.4 L639.8 526.8 L640.7 524.2 L641.5 521.6 L642.4 518.9 L643.2 516.3 L644.1 513.6 L644.9 511 L645.8 508.3 L646.6 505.7 L647.4 503 L648.2 500.3 L649 497.6 L649.8 494.9 L650.6 492.3 L651.4 489.6 L652.2 486.9 L653 484.2 L653.8 481.5 L654.5 478.8 L655.3 476.1 L656.1 473.5 L656.8 470.8 L657.6 468.1 L658.4 465.5 L659.1 462.8 L659.9 460.2 L660.6 457.6 L661.4 455.1 L662.1 452.5 L662.9 450 L663.6 447.5 L664.3 445.1 L665 442.8 L665.7 440.4 L666.4 438.2 L667.1 435.9 L667.8 433.7 L668.5 431.5 L669.2 429.1 L669.9 426.8 L670.5 424.3 L671.2 421.8 L671.8 419.3 L672.5 416.8 L673.1 414.2 L673.8 411.5 L674.4 408.9 L675.1 406.2 L675.8 403.5 L676.4 400.8 L677.1 398.1 L677.7 395.3 L678.4 392.6 L679.1 389.9 L679.8 387.2 L680.5 384.4 L681.2 381.7 L681.8 379 L682.5 376.3 L683.2 373.6 L683.9 370.9 L684.5 368.2 L685.2 365.5 L685.9 362.8 L686.5 360.1 L687.2 357.4 L687.8 354.7 L688.5 352 L689.1 349.3 L689.7 346.6 L690.4 344 L691 341.3 L691.6 338.6 L692.3 335.9 L692.9 333.2 L693.5 330.5 L694.2 327.8 L694.8 325.1 L695.4 322.4 L696 319.7 L696.6 317 L697.2 314.3 L697.9 311.6 L698.5 308.9 L699.1 306.2 L699.7 303.5 L700.3 300.8 L700.9 298.1 L701.6 295.4 L702.2 292.7 L702.8 290 L703.4 287.3 L704 284.6 L704.6 281.9 L705.2 279.2 L705.8 276.5 L706.4 273.8 L707.1 271 L707.7 268.3 L708.3 265.6 L708.9 262.9 L709.5 260.2 L710.1 257.5 L710.7 254.8 L711.3 252.1 L711.9 249.4 L712.5 246.7 L713.1 244 L713.7 241.3 L714.3 238.6 L714.9 235.9 L715.5 233.2 L716.1 230.4 L716.7 227.7 L717.3 225 L717.9 222.3 L718.5 219.6 L719.1 216.9 L719.7 214.2 L720.3 211.5 L720.9 208.8 L721.5 206.1 L722.1 203.4 L722.6 200.6 L723.2 197.9 L723.8 195.2 L724.4 192.5 L725 189.8 L725.6 187.1 L726.2 184.4 L726.8 181.7 L727.3 179 L727.9 176.3 L728.5 173.6 L729.1 170.8 L729.7 168.1 L730.3 165.4 L730.8 162.7 L731.4 160 L732 157.3" fill="none" stroke="#0000ff" stroke-width="3.5" stroke-linejoin="round" stroke-dasharray="15.573 9.292"/>
<path d="M104.8 198.3 L106.1 201.2 L107.5 204.1 L108.8 207 L110.1 209.9 L111.4 212.8 L112.8 215.7 L114.1 218.7 L115.4 221.6 L116.7 224.5 L118 227.4 L119.3 230.3 L120.6 233.3 L121.9 236.2 L123.2 239.1 L124.4 242 L125.7 245 L127 247.9 L128.3 250.8 L129.5 253.8 L130.8 256.7 L132.1 259.6 L133.3 262.6 L134.6 265.5 L135.8 268.4 L137.1 271.4 L138.4 274.3 L139.6 277.2 L140.8 280.2 L142.1 283.1 L143.3 286.1 L144.6 289 L145.8 291.9 L147.1 294.9 L148.3 297.8 L149.5 300.7 L150.8 303.7 L152 306.6 L153.2 309.5 L154.4 312.5 L155.7 315.4 L156.9 318.3 L158.1 321.3 L159.3 324.2 L160.5 327.1 L161.8 330 L163 333 L164.2 335.9 L165.4 338.8 L166.6 341.7 L167.8 344.7 L169.1 347.6 L170.3 350.5 L171.5 353.4 L172.7 356.3 L173.9 359.3 L175.1 362.2 L176.3 365.1 L177.5 368 L178.7 371 L179.9 373.9 L181.1 376.8 L182.2 379.8 L183.4 382.7 L184.6 385.7 L185.8 388.6 L186.9 391.6 L188.1 394.5 L189.3 397.5 L190.4 400.4 L191.6 403.4 L192.8 406.4 L193.9 409.3 L195.1 412.3 L196.2 415.3 L197.3 418.2 L198.5 421.2 L199.6 424.2 L200.7 427.2 L201.9 430.1 L203 433.1 L204.1 436.1 L205.2 439.1 L206.3 442.1 L207.4 445.1 L208.5 448.1 L209.6 451 L210.7 454 L211.8 457 L212.9 460 L213.9 463 L215 466 L216 469 L217.1 472 L218.1 475 L219.1 478 L220.2 481 L221.2 484 L222.2 487 L223.2 489.9 L224.2 492.9 L225.2 495.9 L226.2 498.9 L227.1 501.9 L228.1 504.9 L229.1 507.9 L230 510.9 L231 514 L231.9 517 L232.9 520 L233.8 523 L234.7 526 L235.6 529 L236.6 532 L237.5 535 L238.4 538 L239.3 541 L240.1 544 L241 547.1 L241.9 550.1 L242.8 553.1 L243.6 556.1 L244.5 559.2 L245.3 562.2 L246.1 565.2 L247 568.3 L247.8 571.3 L248.6 574.4 L249.4 577.4 L250.2 580.5 L251 583.5 L251.7 586.6 L252.5 589.7 L253.2 592.7 L254 595.8 L254.7 598.9 L255.4 602 L256.1 605.1 L256.8 608.2 L257.5 611.3 L258.2 614.4 L258.8 617.5 L259.5 620.7 L260.1 623.8 L260.7 626.9 L261.3 630.1 L261.9 633.2 L262.4 636.4 L263 639.5 L263.5 642.7 L264 645.8 L264.5 649 L265 652.2 L265.5 655.3 L265.9 658.5 L266.4 661.7 L266.8 664.8 L267.2 668 L267.5 671.2 L267.9 674.4" fill="none" stroke="#996633" stroke-width="3.5" stroke-linejoin="round" />
<path d="M732 198.3 L730.7 201.2 L729.3 204.1 L728 207 L726.7 209.9 L725.4 212.8 L724 215.7 L722.7 218.7 L721.4 221.6 L720.1 224.5 L718.8 227.4 L717.5 230.3 L716.2 233.3 L714.9 236.2 L713.6 239.1 L712.4 242 L711.1 245 L709.8 247.9 L708.5 250.8 L707.3 253.8 L706 256.7 L704.7 259.6 L703.5 262.6 L702.2 265.5 L701 268.4 L699.7 271.4 L698.4 274.3 L697.2 277.2 L696 280.2 L694.7 283.1 L693.5 286.1 L692.2 289 L691 291.9 L689.7 294.9 L688.5 297.8 L687.3 300.7 L686 303.7 L684.8 306.6 L683.6 309.5 L682.4 312.5 L681.1 315.4 L679.9 318.3 L678.7 321.3 L677.5 324.2 L676.3 327.1 L675 330 L673.8 333 L672.6 335.9 L671.4 338.8 L670.2 341.7 L669 344.7 L667.7 347.6 L666.5 350.5 L665.3 353.4 L664.1 356.3 L662.9 359.3 L661.7 362.2 L660.5 365.1 L659.3 368 L658.1 371 L656.9 373.9 L655.7 376.8 L654.6 379.8 L653.4 382.7 L652.2 385.7 L651 388.6 L649.9 391.6 L648.7 394.5 L647.5 397.5 L646.4 400.4 L645.2 403.4 L644 406.4 L642.9 409.3 L641.7 412.3 L640.6 415.3 L639.5 418.2 L638.3 421.2 L637.2 424.2 L636.1 427.2 L634.9 430.1 L633.8 433.1 L632.7 436.1 L631.6 439.1 L630.5 442.1 L629.4 445.1 L628.3 448.1 L627.2 451 L626.1 454 L625 457 L623.9 460 L622.9 463 L621.8 466 L620.8 469 L619.7 472 L618.7 475 L617.7 478 L616.6 481 L615.6 484 L614.6 487 L613.6 489.9 L612.6 492.9 L611.6 495.9 L610.6 498.9 L609.7 501.9 L608.7 504.9 L607.7 507.9 L606.8 510.9 L605.8 514 L604.9 517 L603.9 520 L603 523 L602.1 526 L601.2 529 L600.2 532 L599.3 535 L598.4 538 L597.5 541 L596.7 544 L595.8 547.1 L594.9 550.1 L594 553.1 L593.2 556.1 L592.3 559.2 L591.5 562.2 L590.7 565.2 L589.8 568.3 L589 571.3 L588.2 574.4 L587.4 577.4 L586.6 580.5 L585.8 583.5 L585.1 586.6 L584.3 589.7 L583.6 592.7 L582.8 595.8 L582.1 598.9 L581.4 602 L580.7 605.1 L580 608.2 L579.3 611.3 L578.6 614.4 L578 617.5 L577.3 620.7 L576.7 623.8 L576.1 626.9 L575.5 630.1 L574.9 633.2 L574.4 636.4 L573.8 639.5 L573.3 642.7 L572.8 645.8 L572.3 649 L571.8 652.2 L571.3 655.3 L570.9 658.5 L570.4 661.7 L570 664.8 L569.6 668 L569.3 671.2 L568.9 674.4" fill="none" stroke="#996633" stroke-width="3.5" stroke-linejoin="round" />
<path d="M274.8 674.4 L274.9 673.6 L275.1 672.1 L275.2 670.7 L275.4 669.3 L275.5 667.8 L275.7 666.4 L275.9 665 L276.1 663.5 L276.2 662.1 L276.4 660.7 L276.6 659.3 L276.8 657.9 L277 656.5 L277.3 655 L277.5 653.6 L277.7 652.2 L277.9 650.8 L278.2 649.4 L278.4 648 L278.7 646.6 L278.9 645.2 L279.2 643.8 L279.5 642.4 L279.8 641 L280 639.7 L280.3 638.3 L280.6 636.9 L280.9 635.5 L281.2 634.1 L281.5 632.7 L281.8 631.4 L282.1 630 L282.5 628.6 L282.8 627.2 L283.1 625.9 L283.5 624.5 L283.8 623.1 L284.2 621.8 L284.5 620.4 L284.9 619 L285.2 617.7 L285.6 616.3 L286 614.9 L286.4 613.6 L286.7 612.2 L287.1 610.9 L287.5 609.5 L287.9 608.2 L288.3 606.8 L288.7 605.4 L289.1 604.1 L289.6 602.7 L290 601.4 L290.4 600 L290.8 598.7 L291.3 597.4 L291.7 596 L292.1 594.7 L292.6 593.3 L293 592 L293.5 590.6 L293.9 589.3 L294.4 587.9 L294.9 586.6 L295.3 585.3 L295.8 583.9 L296.3 582.6 L296.7 581.2 L297.2 579.9 L297.7 578.6 L298.2 577.2 L298.7 575.9 L299.2 574.6 L299.7 573.2 L300.2 571.9 L300.7 570.6 L301.2 569.2 L301.7 567.9 L302.2 566.5 L302.8 565.2 L303.3 563.9 L303.8 562.5 L304.3 561.2 L304.9 559.9 L305.4 558.5 L305.9 557.2 L306.5 555.9 L307 554.5 L307.6 553.2 L308.1 551.9 L308.7 550.5 L309.2 549.2 L309.8 547.9 L310.4 546.6 L310.9 545.2 L311.5 543.9 L312.1 542.6 L312.7 541.3 L313.3 540 L313.9 538.6 L314.5 537.3 L315.1 536 L315.7 534.7 L316.3 533.4 L317 532.1 L317.6 530.8 L318.2 529.5 L318.9 528.3 L319.6 527 L320.2 525.7 L320.9 524.4 L321.6 523.2 L322.3 521.9 L322.9 520.6 L323.6 519.4 L324.4 518.1 L325.1 516.9 L325.8 515.7 L326.5 514.4 L327.3 513.2 L328 512 L328.8 510.8 L329.6 509.6 L330.4 508.4 L331.1 507.2 L332 506 L332.8 504.8 L333.6 503.7 L334.4 502.5 L335.3 501.3 L336.1 500.2 L337 499.1 L337.9 497.9 L338.7 496.8 L339.6 495.7 L340.5 494.6 L341.5 493.5 L342.4 492.4 L343.3 491.3 L344.3 490.3 L345.3 489.2 L346.3 488.2 L347.2 487.1 L348.2 486.1 L349.3 485.1 L350.3 484.1 L351.3 483.1 L352.4 482.1 L353.4 481.1 L354.5 480.2 L355.6 479.2 L356.7 478.3 L357.8 477.4 L358.9 476.5 L360.1 475.6 L361.2 474.7 L362.4 473.8 L363.5 473 L364.7 472.2 L365.9 471.3 L367.1 470.5 L368.3 469.7 L369.5 468.9 L370.7 468.2 L371.9 467.4 L373.2 466.7 L374.4 466 L375.7 465.3 L376.9 464.6 L378.2 463.9 L379.5 463.3 L380.7 462.7 L382 462.1 L383.3 461.5 L384.6 460.9 L385.9 460.3 L387.2 459.8 L388.5 459.3 L389.9 458.8 L391.2 458.3 L392.5 457.9 L393.9 457.4 L395.2 457 L396.5 456.6 L397.9 456.3 L399.2 455.9 L400.6 455.6 L402 455.3 L403.3 455 L404.7 454.8 L406 454.5 L407.4 454.3 L408.8 454.1 L410.2 454 L411.5 453.8 L412.9 453.7 L414.3 453.6 L415.6 453.6 L417 453.5 L418.4 453.5 L419.8 453.5 L421.2 453.6 L422.5 453.6 L423.9 453.7 L425.3 453.8 L426.6 454 L428 454.1 L429.4 454.3 L430.8 454.5 L432.1 454.8 L433.5 455 L434.8 455.3 L436.2 455.6 L437.6 455.9 L438.9 456.3 L440.3 456.6 L441.6 457 L442.9 457.4 L444.3 457.9 L445.6 458.3 L446.9 458.8 L448.3 459.3 L449.6 459.8 L450.9 460.3 L452.2 460.9 L453.5 461.5 L454.8 462.1 L456.1 462.7 L457.3 463.3 L458.6 463.9 L459.9 464.6 L461.1 465.3 L462.4 466 L463.6 466.7 L464.9 467.4 L466.1 468.2 L467.3 468.9 L468.5 469.7 L469.7 470.5 L470.9 471.3 L472.1 472.2 L473.3 473 L474.4 473.8 L475.6 474.7 L476.7 475.6 L477.9 476.5 L479 477.4 L480.1 478.3 L481.2 479.2 L482.3 480.2 L483.4 481.1 L484.4 482.1 L485.5 483.1 L486.5 484.1 L487.5 485.1 L488.6 486.1 L489.6 487.1 L490.5 488.2 L491.5 489.2 L492.5 490.3 L493.5 491.3 L494.4 492.4 L495.3 493.5 L496.3 494.6 L497.2 495.7 L498.1 496.8 L498.9 497.9 L499.8 499.1 L500.7 500.2 L501.5 501.3 L502.4 502.5 L503.2 503.7 L504 504.8 L504.8 506 L505.7 507.2 L506.4 508.4 L507.2 509.6 L508 510.8 L508.8 512 L509.5 513.2 L510.3 514.4 L511 515.7 L511.7 516.9 L512.4 518.1 L513.2 519.4 L513.9 520.6 L514.5 521.9 L515.2 523.2 L515.9 524.4 L516.6 525.7 L517.2 527 L517.9 528.3 L518.6 529.5 L519.2 530.8 L519.8 532.1 L520.5 533.4 L521.1 534.7 L521.7 536 L522.3 537.3 L522.9 538.6 L523.5 540 L524.1 541.3 L524.7 542.6 L525.3 543.9 L525.9 545.2 L526.4 546.6 L527 547.9 L527.6 549.2 L528.1 550.5 L528.7 551.9 L529.2 553.2 L529.8 554.5 L530.3 555.9 L530.9 557.2 L531.4 558.5 L531.9 559.9 L532.5 561.2 L533 562.5 L533.5 563.9 L534 565.2 L534.6 566.5 L535.1 567.9 L535.6 569.2 L536.1 570.6 L536.6 571.9 L537.1 573.2 L537.6 574.6 L538.1 575.9 L538.6 577.2 L539.1 578.6 L539.6 579.9 L540.1 581.2 L540.5 582.6 L541 583.9 L541.5 585.3 L541.9 586.6 L542.4 587.9 L542.9 589.3 L543.3 590.6 L543.8 592 L544.2 593.3 L544.7 594.7 L545.1 596 L545.5 597.4 L546 598.7 L546.4 600 L546.8 601.4 L547.2 602.7 L547.7 604.1 L548.1 605.4 L548.5 606.8 L548.9 608.2 L549.3 609.5 L549.7 610.9 L550.1 612.2 L550.4 613.6 L550.8 614.9 L551.2 616.3 L551.6 617.7 L551.9 619 L552.3 620.4 L552.6 621.8 L553 623.1 L553.3 624.5 L553.7 625.9 L554 627.2 L554.3 628.6 L554.7 630 L555 631.4 L555.3 632.7 L555.6 634.1 L555.9 635.5 L556.2 636.9 L556.5 638.3 L556.8 639.7 L557 641 L557.3 642.4 L557.6 643.8 L557.9 645.2 L558.1 646.6 L558.4 648 L558.6 649.4 L558.9 650.8 L559.1 652.2 L559.3 653.6 L559.5 655 L559.8 656.5 L560 657.9 L560.2 659.3 L560.4 660.7 L560.6 662.1 L560.7 663.5 L560.9 665 L561.1 666.4 L561.3 667.8 L561.4 669.3 L561.6 670.7 L561.7 672.1 L561.9 673.6 L562 674.4" fill="none" stroke="#996633" stroke-width="3.5" stroke-linejoin="round" />
<rect x="92" y="33" width="653" height="653" fill="none" stroke="#000" stroke-width="2"/>
<path d="M105 686 V676 M105 33 V43 M125.9 686 V679.3 M125.9 33 V39.7 M146.8 686 V679.3 M146.8 33 V39.7 M167.7 686 V679.3 M167.7 33 V39.7 M188.6 686 V679.3 M188.6 33 V39.7 M209.5 686 V676 M209.5 33 V43 M230.4 686 V679.3 M230.4 33 V39.7 M251.2 686 V679.3 M251.2 33 V39.7 M272.1 686 V679.3 M272.1 33 V39.7 M293 686 V679.3 M293 33 V39.7 M313.9 686 V676 M313.9 33 V43 M334.8 686 V679.3 M334.8 33 V39.7 M355.7 686 V679.3 M355.7 33 V39.7 M376.6 686 V679.3 M376.6 33 V39.7 M397.5 686 V679.3 M397.5 33 V39.7 M418.4 686 V676 M418.4 33 V43 M439.3 686 V679.3 M439.3 33 V39.7 M460.2 686 V679.3 M460.2 33 V39.7 M481.1 686 V679.3 M481.1 33 V39.7 M502 686 V679.3 M502 33 V39.7 M522.9 686 V676 M522.9 33 V43 M543.8 686 V679.3 M543.8 33 V39.7 M564.7 686 V679.3 M564.7 33 V39.7 M585.6 686 V679.3 M585.6 33 V39.7 M606.4 686 V679.3 M606.4 33 V39.7 M627.3 686 V676 M627.3 33 V43 M648.2 686 V679.3 M648.2 33 V39.7 M669.1 686 V679.3 M669.1 33 V39.7 M690 686 V679.3 M690 33 V39.7 M710.9 686 V679.3 M710.9 33 V39.7 M731.8 686 V676 M731.8 33 V43 M92 673 H98.7 M745 673 H738.3 M92 638.2 H98.7 M745 638.2 H738.3 M92 603.3 H98.7 M745 603.3 H738.3 M92 568.5 H102 M745 568.5 H735 M92 533.7 H98.7 M745 533.7 H738.3 M92 498.8 H98.7 M745 498.8 H738.3 M92 464 H98.7 M745 464 H738.3 M92 429.2 H98.7 M745 429.2 H738.3 M92 394.3 H102 M745 394.3 H735 M92 359.5 H98.7 M745 359.5 H738.3 M92 324.7 H98.7 M745 324.7 H738.3 M92 289.8 H98.7 M745 289.8 H738.3 M92 255 H98.7 M745 255 H738.3 M92 220.2 H102 M745 220.2 H735 M92 185.3 H98.7 M745 185.3 H738.3 M92 150.5 H98.7 M745 150.5 H738.3 M92 115.7 H98.7 M745 115.7 H738.3 M92 80.8 H98.7 M745 80.8 H738.3 M92 46 H102 M745 46 H735" fill="none" stroke="#000" stroke-width="2"/>
<text x="90.6" y="577.8" text-anchor="end" font-family="Liberation Serif, serif" font-size="34" fill="#000">500</text>
<text x="90.6" y="403.6" text-anchor="end" font-family="Liberation Serif, serif" font-size="34" fill="#000">1000</text>
<text x="90.6" y="229.5" text-anchor="end" font-family="Liberation Serif, serif" font-size="34" fill="#000">1500</text>
<text x="90.6" y="55.3" text-anchor="end" font-family="Liberation Serif, serif" font-size="34" fill="#000">2000</text>
<rect x="88.1" y="703.2" width="17" height="1.6" fill="#000"/>
<text x="115.3" y="712.6" text-anchor="middle" font-family="Liberation Serif, serif" font-size="34" fill="#000">3</text>
<rect x="192.6" y="703.2" width="17" height="1.6" fill="#000"/>
<text x="219.8" y="712.6" text-anchor="middle" font-family="Liberation Serif, serif" font-size="34" fill="#000">2</text>
<rect x="297" y="703.2" width="17" height="1.6" fill="#000"/>
<text x="324.2" y="712.6" text-anchor="middle" font-family="Liberation Serif, serif" font-size="34" fill="#000">1</text>
<text x="418.4" y="712.6" text-anchor="middle" font-family="Liberation Serif, serif" font-size="34" fill="#000">0</text>
<text x="522.9" y="712.6" text-anchor="middle" font-family="Liberation Serif, serif" font-size="34" fill="#000">1</text>
<text x="627.3" y="712.6" text-anchor="middle" font-family="Liberation Serif, serif" font-size="34" fill="#000">2</text>
<text x="731.8" y="712.6" text-anchor="middle" font-family="Liberation Serif, serif" font-size="34" fill="#000">3</text>
</svg>
</body></html>
